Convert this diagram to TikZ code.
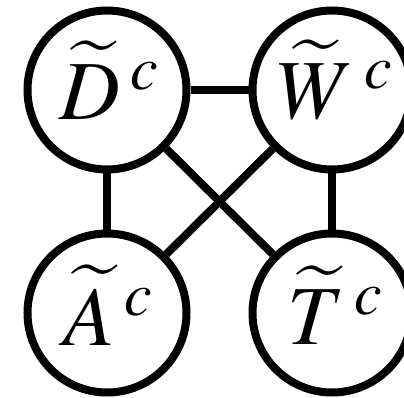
\documentclass[tikz,border=0pt]{standalone}
\usepackage{mathptmx}
\tikzset{
  vnode/.style={circle, draw=black, line width=8pt, minimum size=159pt, inner sep=0pt, fill=white},
  vedge/.style={line width=8pt, draw=black},
  vlabel/.style={}
}
\newcommand{\biglab}[1]{\scalebox{8.4}{$\widetilde{#1}^{\mkern3mu c}$}}
\begin{document}
\begin{tikzpicture}[x=1pt,y=-1pt]
\useasboundingbox (0,0) rectangle (404,398);
\begin{scope}
\clip (0,0) rectangle (404,398);
\node[vnode] (D) at (107,90) {};
\node[vnode] (W) at (332,90) {};
\node[vnode] (A) at (107,313) {};
\node[vnode] (T) at (332,313) {};
\draw[vedge] (D) -- (W);
\draw[vedge] (D) -- (A);
\draw[vedge] (W) -- (T);
\draw[vedge] (D) -- (T);
\draw[vedge] (W) -- (A);
\node[vlabel] (Dl) at (111,80) {\biglab{D}};
\node[vlabel] (Wl) at (337,80) {\biglab{W}};
\node[vlabel] (Al) at (110,305) {\biglab{A}};
\node[vlabel] (Tl) at (337,305) {\biglab{T}};
\end{scope}
\end{tikzpicture}
\end{document}
